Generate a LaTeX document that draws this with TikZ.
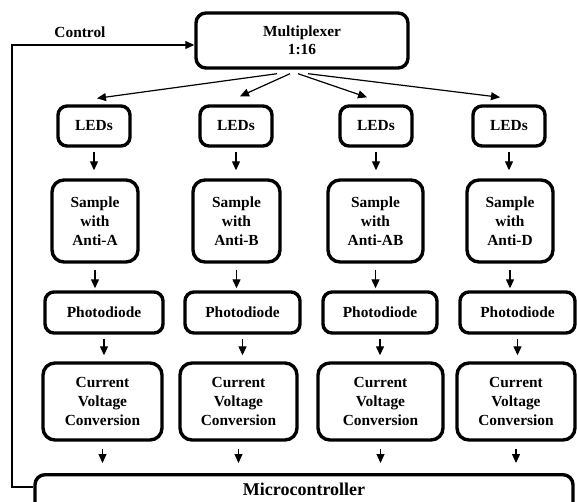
\documentclass[tikz,border=0pt]{standalone}
\usepackage{fontspec}
\setmainfont{Liberation Serif}
\usetikzlibrary{arrows.meta}
\tikzset{
  box/.style={draw, line width=3.4pt, rounded corners=9pt, align=center, inner sep=0pt,
    font=\fontsize{15.4}{19}\selectfont\bfseries},
  bigbox/.style={box, rounded corners=12pt},
  arr/.style={line width=1.2pt, -{Triangle[length=9pt,width=8pt]}},
  r1/.style={arr, shorten <=4pt, shorten >=8pt},
  r2/.style={arr, shorten <=6pt, shorten >=2pt},
  r3/.style={arr, shorten <=4pt, shorten >=6pt},
  r4/.style={arr, shorten <=7pt, shorten >=10pt},
}
\begin{document}
\begin{tikzpicture}[x=1pt,y=-1pt]
\useasboundingbox (0,0) rectangle (577,501);
% multiplexer
\node[box, rounded corners=10pt, minimum width=212pt, minimum height=55pt,
  font=\fontsize{15.4}{17.5}\selectfont\bfseries] (mux) at (302,40.5) {Multiplexer\\1:16};
% LEDs
\foreach \i/\x in {1/94,2/236,3/376,4/509}
  \node[box, minimum width=72pt, minimum height=40pt] (l\i) at (\x,126) {LEDs};
% samples
\node[bigbox, minimum width=86pt, minimum height=82pt] (s1) at (95,221) {Sample\\with\\Anti-A};
\node[bigbox, minimum width=87pt, minimum height=82pt] (s2) at (236.5,221) {Sample\\with\\Anti-B};
\node[bigbox, minimum width=95pt, minimum height=82pt] (s3) at (375.5,221) {Sample\\with\\Anti-AB};
\node[bigbox, minimum width=86pt, minimum height=82pt] (s4) at (510,221) {Sample\\with\\Anti-D};
% photodiodes
\node[box, minimum width=118pt, minimum height=41pt] (p1) at (104,312.5) {Photodiode};
\node[box, minimum width=115pt, minimum height=41pt] (p2) at (242.5,312.5) {Photodiode};
\node[box, minimum width=114pt, minimum height=41pt] (p3) at (380,312.5) {Photodiode};
\node[box, minimum width=115pt, minimum height=41pt] (p4) at (517.5,312.5) {Photodiode};
% current-voltage
\node[bigbox, minimum width=119pt, minimum height=77pt] (c1) at (102.5,401.5) {Current\\Voltage\\Conversion};
\node[bigbox, minimum width=117pt, minimum height=77pt] (c2) at (238.5,401.5) {Current\\Voltage\\Conversion};
\node[bigbox, minimum width=125pt, minimum height=77pt] (c3) at (380.5,401.5) {Current\\Voltage\\Conversion};
\node[bigbox, minimum width=118pt, minimum height=77pt] (c4) at (516,401.5) {Current\\Voltage\\Conversion};
% microcontroller
\node[box, rounded corners=10pt, anchor=north, minimum width=538pt, text height=21pt, text depth=30pt,
  font=\fontsize{18}{20}\selectfont\bfseries] (micro) at (304,473) {Microcontroller};
% control
\node[font=\fontsize{15.4}{17}\selectfont\bfseries] (ctl) at (80,32) {Control};
\coordinate (ct) at (12,45);
\coordinate (cb) at (12,487);
\draw[line width=1.2pt, -{Triangle[length=9pt,width=8pt]}] (micro.west |- cb) -- (cb) -- (ct) -- (mux.west |- ct);
% mux to LEDs
\draw[arr] ([shift={(-25,4)}]mux.south) -- ([shift={(3,-6)}]l1.north);
\draw[arr] ([shift={(-12,4)}]mux.south) -- ([shift={(4,-8)}]l2.north);
\draw[arr] ([shift={(-4,4)}]mux.south) -- ([shift={(-9,-7)}]l3.north);
\draw[arr] ([shift={(6,4)}]mux.south) -- ([shift={(-9,-7)}]l4.north);
% columns
\foreach \i in {1,2,3,4}{
  \draw[r1] (l\i.south) -- (l\i.south |- s\i.north);
  \draw[r2] (s\i.south) -- (s\i.south |- p\i.north);
  \draw[r3] (p\i.south) -- (p\i.south |- c\i.north);
  \draw[r4] (c\i.south) -- (c\i.south |- micro.north);
}
\end{tikzpicture}
\end{document}
